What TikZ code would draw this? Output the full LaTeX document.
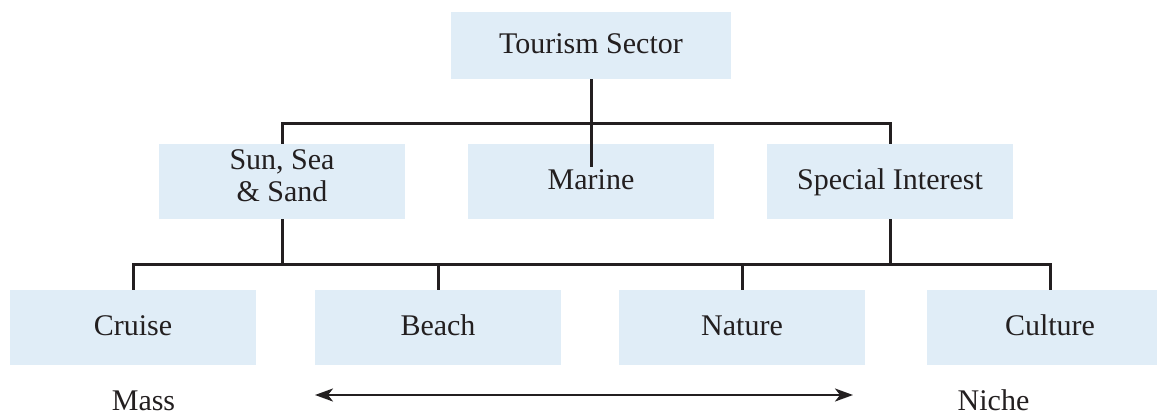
\documentclass[tikz,border=0pt]{standalone}
\usepackage{fontspec}
\setmainfont{Liberation Serif}
\usetikzlibrary{arrows.meta}
\definecolor{boxfill}{HTML}{E0EDF7}
\definecolor{ink}{HTML}{231F20}
\begin{document}
\begin{tikzpicture}[x=1pt,y=-1pt,
  catbox/.style={fill=boxfill,draw=none,minimum width=246pt,minimum height=75pt,inner sep=0pt,
    text=ink,font=\fontsize{30}{32}\selectfont,text height=20pt,text depth=5pt},
  link/.style={draw=ink,line width=3pt},
  lbl/.style={text=ink,font=\fontsize{30}{32}\selectfont,inner sep=0pt,anchor=base}]
\clip (0,0) rectangle (1157,418);
\fill[white] (0,0) rectangle (1157,418);
% boxes
\node[catbox,minimum width=280pt,minimum height=67pt] (top) at (591,45.5) {Tourism Sector};
\node[catbox] (sun) at (282,181.5) {};
\node[text=ink,font=\fontsize{30}{32}\selectfont,align=center,inner sep=0pt] (suntext) at (282,175.5) {Sun, Sea\\\& Sand};
\node[catbox] (marine) at (591,181.5) {Marine};
\node[catbox] (special) at (890,181.5) {Special Interest};
\node[catbox] (cruise) at (133,327.5) {Cruise};
\node[catbox] (beach) at (438,327.5) {Beach};
\node[catbox] (nature) at (742,327.5) {Nature};
\node[catbox] (culture) at (1050,327.5) {Culture};
% connectors
\coordinate (mstop) at (591,167);
\draw[link] (top.south) -- (top.south |- mstop);
\draw[link] (sun.north) -- ++(0,-20) -| (special.north);
\draw[link] (cruise.north) -- ++(0,-25) -| (culture.north);
\coordinate (bar3) at (0,265);
\draw[link] (sun.south) -- (sun.south |- bar3);
\draw[link] (special.south) -- (special.south |- bar3);
\draw[link] (beach.north) -- ++(0,-25);
\draw[link] (nature.north) -- ++(0,-25);
% scale
\coordinate (aL) at (315,395);
\coordinate (aR) at (853,395);
\draw[draw=ink,line width=2.4pt,{Stealth[length=18pt,width=13pt,inset=5pt]}-{Stealth[length=18pt,width=13pt,inset=5pt]}] (aL) -- (aR);
\node[lbl] (mass) at (143.5,410) {Mass};
\node[lbl] (niche) at (993.5,410) {Niche};
\end{tikzpicture}
\end{document}
